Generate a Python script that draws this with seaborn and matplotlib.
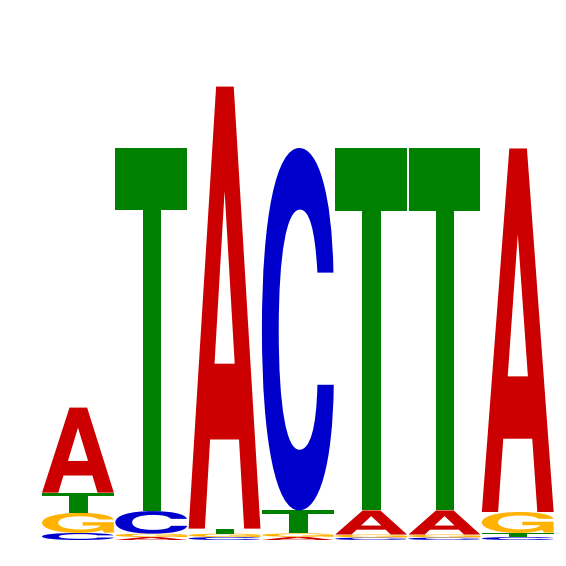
import numpy as np
import matplotlib
matplotlib.use("Agg")
import matplotlib.pyplot as plt
import seaborn as sns
from matplotlib.textpath import TextPath
from matplotlib.font_manager import FontProperties
from matplotlib.patches import PathPatch
from matplotlib.transforms import Affine2D

# ---- data (bits per letter at each position) ----
positions = [1, 2, 3, 4, 5, 6, 7]
letters = ["A", "C", "G", "T"]
A_bits = [0.374, 0.013, 1.943, 0.014, 0.106, 0.106, 1.598]
C_bits = [0.031, 0.099, 0.013, 1.593, 0.011, 0.011, 0.013]
G_bits = [0.088, 0.015, 0.015, 0.015, 0.013, 0.013, 0.092]
T_bits = [0.089, 1.595, 0.022, 0.101, 1.591, 1.591, 0.018]
letter_colors = {"A": "#CC0000", "C": "#0000CC", "G": "#FFB300", "T": "#008000"}

sns.set_theme(style="white")
fig = plt.figure(figsize=(5.66, 5.66), dpi=100)
ax = fig.add_axes([41.3 / 566, 26 / 566, 513.1 / 566, 455 / 566])

fp = FontProperties(family=["TeX Gyre Heros", "FreeSans", "Liberation Sans"], weight="bold")
glyphs = {}
for L in letters:
    p = TextPath((0, 0), L, size=1, prop=fp)
    glyphs[L] = (p, p.get_extents())

bits = {"A": A_bits, "C": C_bits, "G": G_bits, "T": T_bits}
width = 0.98
for i, pos in enumerate(positions):
    col = sorted(letters, key=lambda L: bits[L][i])
    y = 0.0
    for L in col:
        h = bits[L][i]
        p, ext = glyphs[L]
        tr = (Affine2D()
              .translate(-ext.x0, -ext.y0)
              .scale(width / ext.width, h / ext.height)
              .translate(pos - width / 2, y))
        ax.add_patch(PathPatch(tr.transform_path(p), facecolor=letter_colors[L],
                               edgecolor="none", lw=0))
        y += h

ax.set_xlim(0.5, 7.5)
ax.set_ylim(0, 2.0)
ax.set_xticks([])
ax.set_yticks([])
sns.despine(ax=ax, left=True, bottom=True)
fig.savefig("out.png", dpi=100, facecolor="white")
